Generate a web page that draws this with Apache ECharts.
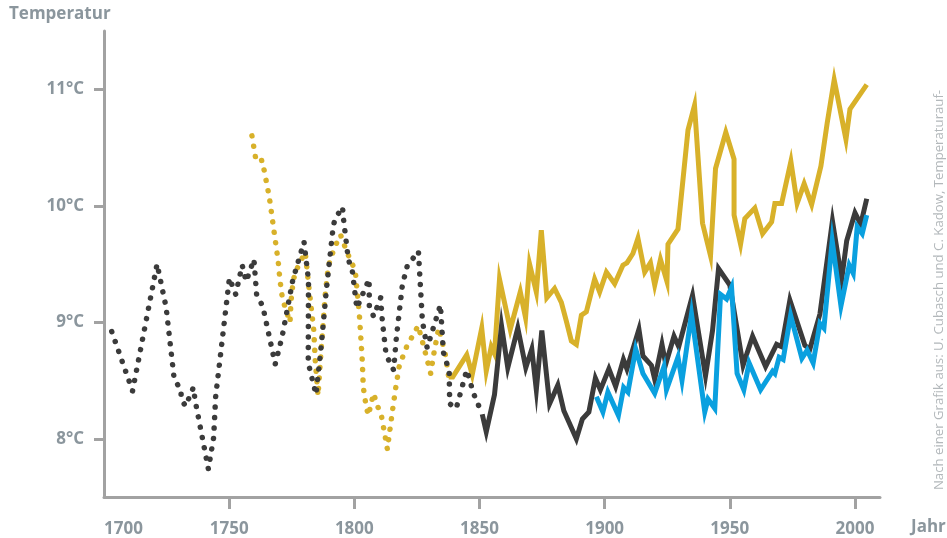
<!DOCTYPE html>
<html>
<head>
<meta charset="utf-8">
<script src="https://cdn.jsdelivr.net/npm/echarts@6/dist/echarts.min.js"></script>
<style>
  html, body { margin: 0; padding: 0; background: #fff; }
  #chart { width: 947px; height: 538px; }
</style>
</head>
<body>
<div id="chart"></div>
<script>
// [Jahr, °C] Stützpunkte
const darkEarly = [[1703.1,8.92],[1711.4,8.41],[1721.2,9.50],[1724.8,9.13],[1728,8.52],[1730.8,8.41],[1730.8,8.34],
    [1732.6,8.28],[1735.7,8.44],[1736.4,8.33],[1741.7,7.74],[1743.8,8.01],[1744.6,8.36],[1750.1,9.38],[1752.6,9.24],
    [1755.2,9.49],[1756.8,9.35],[1759.9,9.54],[1761,9.23],[1763.4,9.14],[1768.4,8.64],[1771.2,8.88],[1775.4,9.36],
    [1779.9,9.69],[1781.7,9.36],[1781.6,8.65],[1784.7,8.38],[1786.8,8.80],[1788.8,9.27],[1791.6,9.83],[1792.4,9.89],
    [1795.3,9.99],[1795.6,9.90],[1797.6,9.54],[1799.2,9.44],[1801,9.12],[1803.9,9.27],[1805.9,9.37],[1806,9.14],
    [1807.7,9.05],[1810.5,9.21],[1811.2,9.01],[1812.7,8.72],[1815.7,8.59],[1816.8,8.87],[1819.2,9.32],[1821.1,9.48],
    [1825.6,9.61],[1827.2,9.01],[1829.1,8.78],[1834.4,9.15],[1835.6,8.74],[1837.9,8.58],[1838.1,8.30],[1840.7,8.26],
    [1844.9,8.59],[1847.6,8.39],[1851.1,8.21]];
const darkLate = [[1851.1,8.21],[1852.7,8.06],[1856,8.38],[1858.8,8.97],[1861.3,8.61],[1865.3,8.95],[1868.5,8.61],
    [1870.9,8.77],[1872.7,8.42],[1874.9,8.93],[1878,8.30],[1881.3,8.46],[1883.7,8.24],[1888.7,8.00],[1891.1,8.17],
    [1893.7,8.23],[1896.3,8.52],[1898.3,8.42],[1901.7,8.60],[1904.4,8.45],[1907.5,8.68],[1908.9,8.60],[1913.7,8.94],
    [1915.3,8.71],[1918.7,8.63],[1920,8.51],[1922.9,8.81],[1924.4,8.64],[1927.7,8.88],[1929.6,8.79],[1935.1,9.23],
    [1940.3,8.54],[1943.1,8.93],[1945.5,9.46],[1950,9.32],[1955.3,8.63],[1959.1,8.88],[1964.3,8.62],[1968.7,8.81],
    [1970.7,8.79],[1974,9.19],[1980,8.80],[1982,8.77],[1986,9.07],[1991,9.87],[1994.7,9.37],[1996.7,9.70],
    [2000,9.94],[2002.3,9.84],[2004.7,10.06]];
const goldEarly = [[1759.1,10.60],[1760.8,10.38],[1763.2,10.39],[1766,10.08],[1769.6,9.52],[1770.3,9.36],[1771.3,9.20],
    [1774.3,9.00],[1774.7,9.18],[1775.6,9.36],[1776.7,9.44],[1778.4,9.52],[1780.4,9.60],[1781.7,9.33],[1783.8,8.93],
    [1784.4,8.67],[1785.5,8.37],[1786.7,8.75],[1788.3,9.22],[1789.6,9.48],[1790.9,9.57],[1792.7,9.67],[1794.5,9.75],
    [1796.9,9.61],[1800.4,9.44],[1800.8,9.34],[1802,9.07],[1803.1,8.70],[1803.6,8.44],[1804.7,8.28],[1805.6,8.20],
    [1807.7,8.39],[1809.1,8.29],[1810.8,8.20],[1812.4,8.01],[1813.2,7.91],[1814.3,8.09],[1815.5,8.28],[1816.7,8.46],
    [1818,8.63],[1820.9,8.79],[1825.5,8.97],[1827.5,8.81],[1830.5,8.56],[1832,8.76],[1833.7,8.95],[1836.3,8.73],
    [1837.7,8.53]];
const goldLate = [[1837.7,8.53],[1839.3,8.53],[1844.9,8.72],[1847.1,8.55],[1850.9,8.95],[1852.7,8.58],[1854.7,8.79],
    [1856,8.73],[1858,9.37],[1862.3,8.94],[1866.3,9.26],[1868.4,9.04],[1870,9.50],[1872.7,9.26],[1874.7,9.79],
    [1876.9,9.21],[1880,9.29],[1882.7,9.17],[1884.7,9.01],[1886.7,8.84],[1888.7,8.81],[1890.7,9.06],[1892.7,9.09],
    [1896,9.37],[1898,9.26],[1900.7,9.43],[1904,9.33],[1907.3,9.49],[1908.9,9.51],[1911.3,9.59],[1913.3,9.72],
    [1916,9.43],[1918.3,9.51],[1920,9.32],[1922.3,9.54],[1924.9,9.35],[1925.3,9.67],[1929.3,9.80],[1933.3,10.65],
    [1935.9,10.86],[1939.1,9.85],[1942.3,9.57],[1944.3,10.32],[1948.4,10.63],[1951.7,10.40],[1951.7,9.92],
    [1954.3,9.67],[1956,9.89],[1960,9.98],[1963.1,9.76],[1966.7,9.86],[1968,10.02],[1970.7,10.02],[1974.4,10.38],
    [1976.9,10.02],[1979.7,10.19],[1982.7,10.01],[1986.4,10.34],[1988.9,10.71],[1991.7,11.08],[1996.4,10.57],
    [1998,10.83],[2004.7,11.04]];
const blue = [[1896.7,8.36],[1899.3,8.23],[1901.3,8.40],[1905.5,8.20],[1907.6,8.44],[1909.3,8.40],[1912.4,8.77],
    [1915.3,8.56],[1920,8.39],[1923.7,8.62],[1924.7,8.42],[1929.3,8.70],[1930.9,8.50],[1934.7,9.07],[1940,8.23],
    [1941.3,8.34],[1944,8.26],[1946.3,9.24],[1948.7,9.20],[1950.7,9.30],[1952.9,8.56],[1955.6,8.42],[1957.7,8.65],
    [1962.3,8.42],[1967.1,8.58],[1968,8.56],[1969.7,8.70],[1971.3,8.68],[1974.3,9.06],[1978.8,8.69],[1980.9,8.76],
    [1983.3,8.65],[1986,8.99],[1987.6,8.95],[1990.9,9.70],[1994.4,9.14],[1997.7,9.49],[1999.3,9.42],[2000.9,9.82],
    [2002.9,9.76],[2004.7,9.92]];

const xLabels = [1700,1750,1800,1850,1900,1950,2000];
const xTicks = [1750,1800,1850,1900,1950,2000];
const yTicks = [8,9,10,11];

const grau = '#8b969d', achse = '#a2a2a2';
const dunkel = '#3b3b3b', gold = '#d8b12a', blau = '#0aa0df';
const schrift = '"Open Sans", "DejaVu Sans", sans-serif';

function linie(data, farbe, gepunktet, z) {
    return {
        type: 'line', data, z, showSymbol: false, symbol: 'none', silent: true,
        lineStyle: gepunktet
            ? { color: farbe, width: 5.5, type: [0.01, 10.5], cap: 'round' }
            : { color: farbe, width: 5, join: 'miter', cap: 'butt' }
    };
}

const chart = echarts.init(document.getElementById('chart'));
chart.setOption({
    animation: false,
    backgroundColor: '#fff',
    grid: { left: 104, right: 67, top: 31, bottom: 40 },
    xAxis: {
        type: 'value', min: 1700, max: 2010,
        splitLine: { show: false },
        axisLine: { lineStyle: { color: achse, width: 3 } },
        axisTick: { show: true, length: 12, lineStyle: { color: achse, width: 3 }, customValues: xTicks },
        axisLabel: { customValues: xLabels, margin: 24, color: grau, fontSize: 17, fontWeight: 'bold',
            fontFamily: schrift, alignMinLabel: 'left', formatter: v => String(v) }
    },
    yAxis: {
        type: 'value', min: 7.5, max: 11.5,
        splitLine: { show: false },
        axisLine: { show: true, lineStyle: { color: achse, width: 3 } },
        axisTick: { show: true, length: 10, lineStyle: { color: achse, width: 3 }, customValues: yTicks },
        axisLabel: { customValues: yTicks, margin: 20, color: grau, fontSize: 17, fontWeight: 'bold',
            fontFamily: schrift, formatter: v => v + '°C' }
    },
    graphic: [
        { type: 'text', left: 9, top: 6, style: { text: 'Temperatur', fill: grau, font: 'bold 17px ' + schrift } },
        { type: 'text', left: 911, top: 519, style: { text: 'Jahr', fill: grau, font: 'bold 17px ' + schrift } },
        { type: 'text', x: 939, y: 290, rotation: Math.PI / 2,
          style: { text: 'Nach einer Grafik aus: U. Cubasch und C. Kadow, Temperaturauf-', fill: '#b3b8bb',
                   font: '13.2px ' + schrift, align: 'center', verticalAlign: 'middle' } }
    ],
    series: [
        linie(goldEarly, gold, true, 2),
        linie(darkEarly, dunkel, true, 3),
        linie(goldLate, gold, false, 2),
        linie(darkLate, dunkel, false, 3),
        linie(blue, blau, false, 4)
    ]
});
</script>
</body>
</html>
